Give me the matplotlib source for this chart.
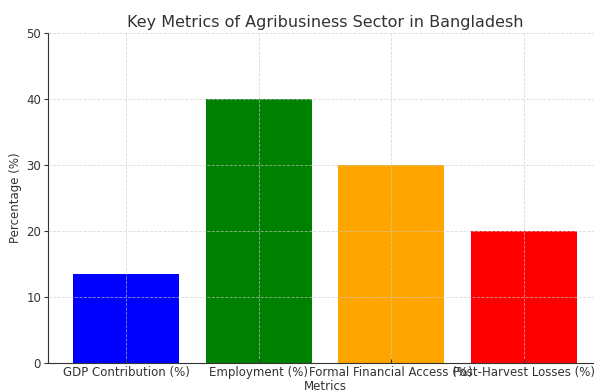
import matplotlib
matplotlib.use("Agg")
import matplotlib.pyplot as plt

# Data
metrics = ["GDP Contribution (%)", "Employment (%)", "Formal Financial Access (%)", "Post-Harvest Losses (%)"]
values = [13.5, 40, 30, 20]
colors = ["blue", "green", "orange", "red"]

fig = plt.figure(figsize=(5.94, 3.91), dpi=100)
ax = fig.add_axes([0.0808, 0.0716, 0.9327, 0.844])

ax.bar(metrics, values, color=colors, width=0.8)

ax.set_ylim(0, 50)
ax.set_xlim(-0.59, 3.59)

# dashed light grid, drawn over the bars
ax.set_axisbelow(False)
ax.grid(True, linestyle="--", linewidth=0.6, color="#cccccc", alpha=0.7)

ax.spines["top"].set_visible(False)
ax.spines["right"].set_visible(False)
for s in ("left", "bottom"):
    ax.spines[s].set_color("#333333")

ax.tick_params(colors="#333333", labelsize=8.5)
ax.tick_params(axis="x", direction="in", length=3, pad=2)
ax.tick_params(axis="y", length=3, pad=2)

ax.set_title("Key Metrics of Agribusiness Sector in Bangladesh", fontsize=11.5, color="#333333", pad=4)
ax.set_xlabel("Metrics", fontsize=8.5, color="#333333", labelpad=1)
ax.set_ylabel("Percentage (%)", fontsize=8.5, color="#333333", labelpad=3)

fig.savefig("out.png", dpi=100)
